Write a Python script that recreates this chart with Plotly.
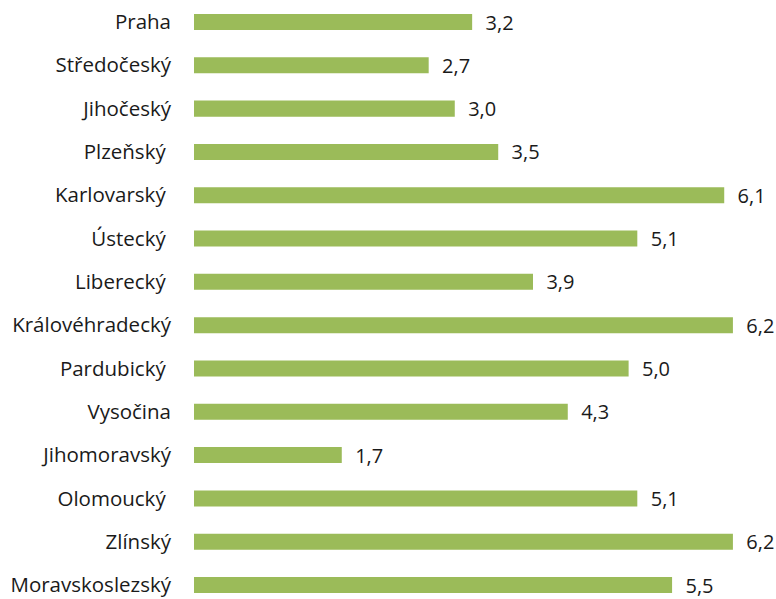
import plotly.graph_objects as go

regions = ["Praha", "Středočeský", "Jihočeský", "Plzeňský\u00a0", "Karlovarský\u00a0", "Ústecký\u00a0",
           "Liberecký\u00a0", "Královéhradecký", "Pardubický\u00a0", "Vysočina", "Jihomoravský",
           "Olomoucký\u00a0", "Zlínský", "Moravskoslezský"]
values = [3.2, 2.7, 3.0, 3.5, 6.1, 5.1, 3.9, 6.2, 5.0, 4.3, 1.7, 5.1, 6.2, 5.5]
labels = ["\u00a0\u00a0" + f"{v:.1f}".replace(".", ",") for v in values]

FONT = "Open Sans"
fig = go.Figure(go.Bar(
    x=values, y=regions, orientation="h",
    marker=dict(color="#9BBB59", line=dict(width=0)),
    text=labels, textposition="outside", cliponaxis=False, constraintext="none",
    textfont=dict(size=20, color="#1a1a1a", family=FONT),
    hoverinfo="skip",
))
fig.update_layout(
    width=776, height=599,
    margin=dict(l=194, r=17, t=0, b=0),
    plot_bgcolor="white", paper_bgcolor="white",
    bargap=0.63, showlegend=False,
    font=dict(family=FONT, size=20, color="#1a1a1a"),
    xaxis=dict(range=[0, 6.5], visible=False),
    yaxis=dict(type="category", range=[13.323, -0.508], showgrid=False, showline=False,
               ticks="", ticklabelstandoff=22, tickfont=dict(size=20.5)),
)
fig.write_html("out.html", config={"displayModeBar": False},
               post_script="document.body.style.margin='0';")
